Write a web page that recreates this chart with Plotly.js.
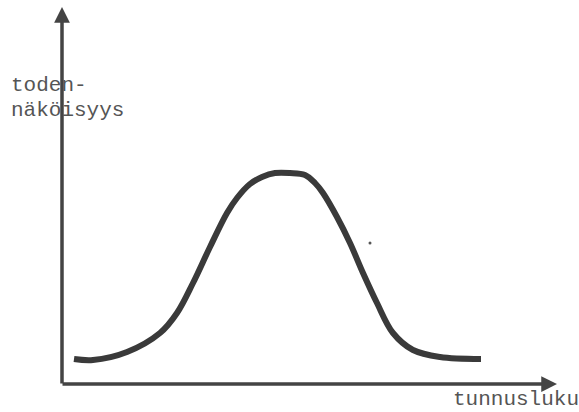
<!DOCTYPE html>
<html>
<head>
<meta charset="utf-8">
<script src="https://cdn.plot.ly/plotly-3.0.1.min.js"></script>
<style>html,body{margin:0;padding:0;background:#fff;}#chart{width:579px;height:412px;}</style>
</head>
<body>
<div id="chart"></div>
<script>
// tunnusluku (x) and todennäköisyys (y)
const tunnusluku = [12, 31, 65, 98, 115, 131, 148, 165, 175, 188, 200, 213, 228, 243, 253, 261, 275, 288, 301, 315, 331, 351, 378, 419];
const todennakoisyys = [25, 24, 32, 51, 71, 101, 137, 171, 186, 200, 207, 211, 211, 209, 201, 191, 167, 141, 111, 81, 51, 34, 27, 25];
// stray speck on the paper
const speckX = [308];
const speckY = [141];
// axis extents
const xAxisEnd = 495;
const yAxisEnd = 377;
const yLabelLines = ["toden-", "näköisyys"];
const xLabel = "tunnusluku";

const ink = "#3a3a3a";
const txt = "#555555";
const font = {family: "Liberation Mono, Courier New, monospace", size: 21, color: txt};

const traces = [
  {x: tunnusluku, y: todennakoisyys, mode: "lines", type: "scatter",
   line: {color: ink, width: 6, shape: "spline", smoothing: 1}, hoverinfo: "skip"},
  {x: speckX, y: speckY, mode: "markers", type: "scatter",
   marker: {color: "#555", size: 3}, hoverinfo: "skip"}
];

const layout = {
  width: 579, height: 412,
  margin: {l: 0, r: 0, t: 0, b: 0},
  paper_bgcolor: "#fff", plot_bgcolor: "#fff",
  showlegend: false,
  xaxis: {range: [-62, 517], visible: false, fixedrange: true},
  yaxis: {range: [-28, 384], visible: false, fixedrange: true},
  annotations: [
    {x: xAxisEnd, y: 0, ax: -1, ay: 0, xref: "x", yref: "y", axref: "x", ayref: "y",
     text: "", showarrow: true, arrowhead: 2, arrowsize: 0.9, arrowwidth: 3.5, arrowcolor: "#444", standoff: 0},
    {x: 0, y: yAxisEnd, ax: 0, ay: -1, xref: "x", yref: "y", axref: "x", ayref: "y",
     text: "", showarrow: true, arrowhead: 2, arrowsize: 0.9, arrowwidth: 3.5, arrowcolor: "#444", standoff: 0},
    {x: -53, y: 299, xref: "x", yref: "y", text: yLabelLines[0], showarrow: false,
     xanchor: "left", yanchor: "middle", font: font},
    {x: -53, y: 274, xref: "x", yref: "y", text: yLabelLines[1], showarrow: false,
     xanchor: "left", yanchor: "middle", font: font},
    {x: 389, y: -15, xref: "x", yref: "y", text: xLabel, showarrow: false,
     xanchor: "left", yanchor: "middle", font: font}
  ]
};

Plotly.newPlot("chart", traces, layout, {displayModeBar: false, staticPlot: true});
</script>
</body>
</html>
